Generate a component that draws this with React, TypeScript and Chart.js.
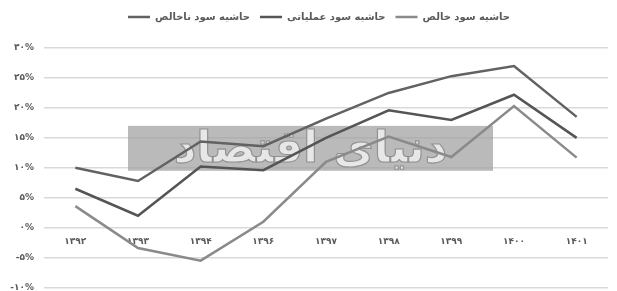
import React, { useEffect, useRef } from "react";
import { Chart, registerables } from "chart.js";

Chart.register(...registerables);

const years = ["۱۳۹۲", "۱۳۹۳", "۱۳۹۴", "۱۳۹۶", "۱۳۹۷", "۱۳۹۸", "۱۳۹۹", "۱۴۰۰", "۱۴۰۱"];
const grossMargin = [10, 7.8, 14.4, 13.6, 18.2, 22.5, 25.3, 27, 18.5];
const operatingMargin = [6.5, 2, 10.2, 9.6, 15, 19.6, 18, 22.2, 15];
const netMargin = [3.6, -3.4, -5.5, 1, 11, 15.2, 11.8, 20.3, 11.7];
const seriesNames = ["حاشیه سود ناخالص", "حاشیه سود عملیاتی", "حاشیه سود خالص"];
const watermarkText = "دنیای اقتصاد";

const toFa = (s: string) => s.replace(/[0-9]/g, (d) => "۰۱۲۳۴۵۶۷۸۹"[+d]);

const W = 617;
const H = 303;

const legendGap = {
  id: "legendGap",
  beforeInit(chart: any) {
    const lg = chart.legend;
    if (!lg) return;
    const orig = lg.fit;
    lg.fit = function () {
      orig.call(this);
      this.height += 16;
    };
  },
  afterLayout(chart: any) {
    const lg = chart.legend;
    if (!lg) return;
    lg.left += 15;
    lg.right += 15;
  },
};

const watermark = {
  id: "watermark",
  beforeDatasetsDraw(chart: any) {
    const { ctx, scales } = chart;
    const x = scales.x;
    const y = scales.y;
    const l = x.getPixelForValue(1) - 10;
    const r = x.getPixelForValue(7) - 21;
    const t = y.getPixelForValue(17);
    const b = y.getPixelForValue(9.5);
    ctx.save();
    ctx.fillStyle = "rgba(160,160,160,0.72)";
    ctx.fillRect(l, t, r - l, b - t);
    ctx.font = "bold 44px 'DejaVu Sans'";
    ctx.textAlign = "center";
    ctx.textBaseline = "middle";
    ctx.direction = "rtl";
    ctx.lineWidth = 1.2;
    ctx.strokeStyle = "rgba(140,140,140,0.9)";
    ctx.fillStyle = "rgba(240,240,240,0.85)";
    const cx = (l + r) / 2;
    const cy = (t + b) / 2 + 2;
    ctx.fillText(watermarkText, cx, cy);
    ctx.strokeText(watermarkText, cx, cy);
    ctx.restore();
  },
};

export default function App() {
  const ref = useRef<HTMLCanvasElement | null>(null);
  useEffect(() => {
    if (!ref.current) return;
    const textColor = "#5a5a5a";
    const chart = new Chart(ref.current, {
      type: "line",
      data: {
        labels: years,
        datasets: [
          { label: seriesNames[0], data: grossMargin, borderColor: "#626262", backgroundColor: "#626262", borderWidth: 2.5, pointRadius: 0, tension: 0 },
          { label: seriesNames[1], data: operatingMargin, borderColor: "#555555", backgroundColor: "#555555", borderWidth: 2.5, pointRadius: 0, tension: 0 },
          { label: seriesNames[2], data: netMargin, borderColor: "#8a8a8a", backgroundColor: "#8a8a8a", borderWidth: 2.5, pointRadius: 0, tension: 0 },
        ],
      },
      options: {
        animation: false,
        responsive: false,
        maintainAspectRatio: false,
        layout: { padding: { top: 2, right: 9, bottom: 5, left: 0 } },
        plugins: {
          legend: {
            position: "top",
            labels: {
              usePointStyle: true,
              pointStyle: "line",
              pointStyleWidth: 22,
              color: textColor,
              padding: 10,
              font: { family: "'DejaVu Sans'", size: 10, weight: "bold" },
            },
          },
          tooltip: { enabled: false },
        },
        scales: {
          x: {
            type: "category",
            offset: true,
            position: { y: 0 } as any,
            grid: { display: false, drawTicks: false },
            border: { display: false },
            ticks: { color: textColor, padding: 9, font: { family: "'DejaVu Sans'", size: 9, weight: "bold" } },
          },
          y: {
            min: -10,
            max: 30,
            ticks: {
              stepSize: 5,
              color: textColor,
              padding: 10,
              font: { family: "'DejaVu Sans'", size: 9, weight: "bold" },
              callback: (v: any) => toFa(String(v)) + "%",
            },
            grid: { color: "#d9d9d9", lineWidth: 1.5, drawTicks: false },
            border: { display: false },
            afterFit: (s: any) => { s.width = 44; },
          },
        },
      },
      plugins: [legendGap, watermark],
    } as any);
    return () => chart.destroy();
  }, []);
  return (
    <div style={{ position: "fixed", left: 0, top: 0, width: W, height: H, background: "#fff" }}>
      <canvas ref={ref} width={W} height={H} style={{ width: W, height: H }} />
    </div>
  );
}
